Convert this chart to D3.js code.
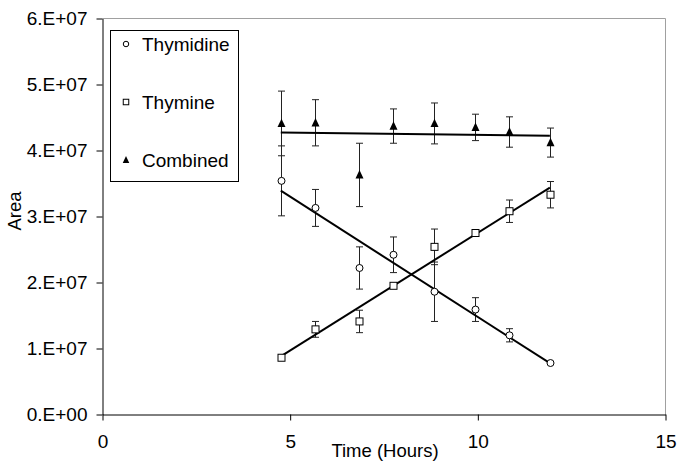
<!DOCTYPE html>
<html>
<head>
<meta charset="utf-8">
<script src="https://cdn.jsdelivr.net/npm/d3@7"></script>
<style>
  body { margin: 0; background: #fff; }
  svg text { font-family: "Liberation Sans", Arial, sans-serif; fill: #000; }
</style>
</head>
<body>
<svg id="chart" width="679" height="463"></svg>
<script>
// values (areas in units of 1e7)
const hours = [4.75, 5.67, 6.83, 7.75, 8.83, 9.92, 10.83, 11.92];
const thymidine = [3.54, 3.13, 2.22, 2.42, 1.86, 1.59, 1.20, 0.78];
const thymidineErr = [0.53, 0.28, 0.32, 0.27, 0.45, 0.18, 0.10, 0.02];
const thymine = [0.86, 1.29, 1.41, 1.95, 2.54, 2.75, 3.08, 3.33];
const thymineErr = [0.02, 0.12, 0.17, 0.02, 0.27, 0.02, 0.17, 0.20];
const combined = [4.41, 4.42, 3.63, 4.37, 4.41, 4.35, 4.28, 4.12];
const combinedErr = [0.49, 0.35, 0.48, 0.26, 0.31, 0.20, 0.23, 0.22];
const xTicks = [0, 5, 10, 15];
const yTicks = [0, 1, 2, 3, 4, 5, 6].map(d => d * 1e7);

const series = [
  { name: "Thymidine", shape: "circle", y: thymidine, err: thymidineErr },
  { name: "Thymine", shape: "square", y: thymine, err: thymineErr },
  { name: "Combined", shape: "triangle", y: combined, err: combinedErr }
];

const svg = d3.select("#chart");
const x = d3.scaleLinear().domain([0, 15]).range([102.5, 665.5]);
const y = d3.scaleLinear().domain([0, 6e7]).range([414.5, 18.5]);

// plot frame (top and right edges are grey)
svg.append("path")
  .attr("d", `M${x(0)},${y(6e7)}H${x(15)}V${y(0)}`)
  .attr("fill", "none").attr("stroke", "#a0a0a0").attr("stroke-width", 1);

const fmt = v => v === 0 ? "0.E+00" : (v / 1e7) + ".E+07";

const yAxis = svg.append("g")
  .attr("transform", `translate(${x(0)},0)`)
  .call(d3.axisLeft(y).tickValues(yTicks).tickFormat(fmt).tickSize(6).tickSizeOuter(0).tickPadding(9));
const xAxis = svg.append("g")
  .attr("transform", `translate(0,${y(0)})`)
  .call(d3.axisBottom(x).tickValues(xTicks).tickFormat(d3.format("d")).tickSize(6).tickSizeOuter(0).tickPadding(14));

[yAxis, xAxis].forEach(g => {
  g.select(".domain").attr("stroke", "#000");
  g.selectAll(".tick line").attr("stroke", "#000");
  g.selectAll("text").attr("font-size", 19).attr("font-family", "Liberation Sans, Arial, sans-serif");
});

svg.append("text")
  .attr("x", 385).attr("y", 457)
  .attr("text-anchor", "middle").attr("font-size", 18.5)
  .text("Time (Hours)");
svg.append("text")
  .attr("transform", "translate(20.5,211) rotate(-90)")
  .attr("text-anchor", "middle").attr("font-size", 18.5)
  .text("Area");

// error bars
const plot = svg.append("g");
series.forEach(s => {
  const g = plot.append("g").attr("stroke", "#222").attr("stroke-width", 1);
  hours.forEach((h, i) => {
    const cx = Math.round(x(h)) + 0.5;
    const top = y((s.y[i] + s.err[i]) * 1e7);
    const bot = y((s.y[i] - s.err[i]) * 1e7);
    g.append("line").attr("x1", cx).attr("x2", cx).attr("y1", top).attr("y2", bot);
    g.append("line").attr("x1", cx - 3.5).attr("x2", cx + 3.5).attr("y1", top).attr("y2", top);
    g.append("line").attr("x1", cx - 3.5).attr("x2", cx + 3.5).attr("y1", bot).attr("y2", bot);
  });
});

// linear trend lines (least squares)
series.forEach(s => {
  const mx = d3.mean(hours), my = d3.mean(s.y);
  const slope = d3.sum(hours, (h, i) => (h - mx) * (s.y[i] - my)) / d3.sum(hours, h => (h - mx) ** 2);
  const f = h => my + slope * (h - mx);
  const x0 = hours[0], x1 = hours[hours.length - 1];
  plot.append("line")
    .attr("x1", x(x0)).attr("y1", y(f(x0) * 1e7))
    .attr("x2", x(x1)).attr("y2", y(f(x1) * 1e7))
    .attr("stroke", "#000").attr("stroke-width", 2);
});

function marker(g, shape, cx, cy, size) {
  if (shape === "circle") {
    g.append("circle").attr("cx", cx).attr("cy", cy).attr("r", size / 2)
      .attr("fill", "#fff").attr("stroke", "#000").attr("stroke-width", 1);
  } else if (shape === "square") {
    g.append("rect").attr("x", cx - size / 2).attr("y", cy - size / 2)
      .attr("width", size).attr("height", size)
      .attr("fill", "#fff").attr("stroke", "#000").attr("stroke-width", 1);
  } else {
    const h = size;
    g.append("path")
      .attr("d", `M${cx},${cy - h * 0.6}L${cx + size / 2},${cy + h * 0.45}L${cx - size / 2},${cy + h * 0.45}Z`)
      .attr("fill", "#000");
  }
}

series.forEach(s => {
  const g = plot.append("g");
  hours.forEach((h, i) => marker(g, s.shape, Math.round(x(h)) + 0.5, y(s.y[i] * 1e7), s.shape === "triangle" ? 8 : 7));
});

// legend
const legend = svg.append("g");
legend.append("rect")
  .attr("x", 110.5).attr("y", 30.5).attr("width", 128).attr("height", 151)
  .attr("fill", "#fff").attr("stroke", "#000").attr("stroke-width", 1);
series.forEach((s, i) => {
  const cy = 44 + i * 58;
  marker(legend, s.shape, 126, cy, s.shape === "triangle" ? 6.5 : 5.5);
  legend.append("text").attr("x", 142).attr("y", cy + 7)
    .attr("font-size", 19).text(s.name);
});
</script>
</body>
</html>
